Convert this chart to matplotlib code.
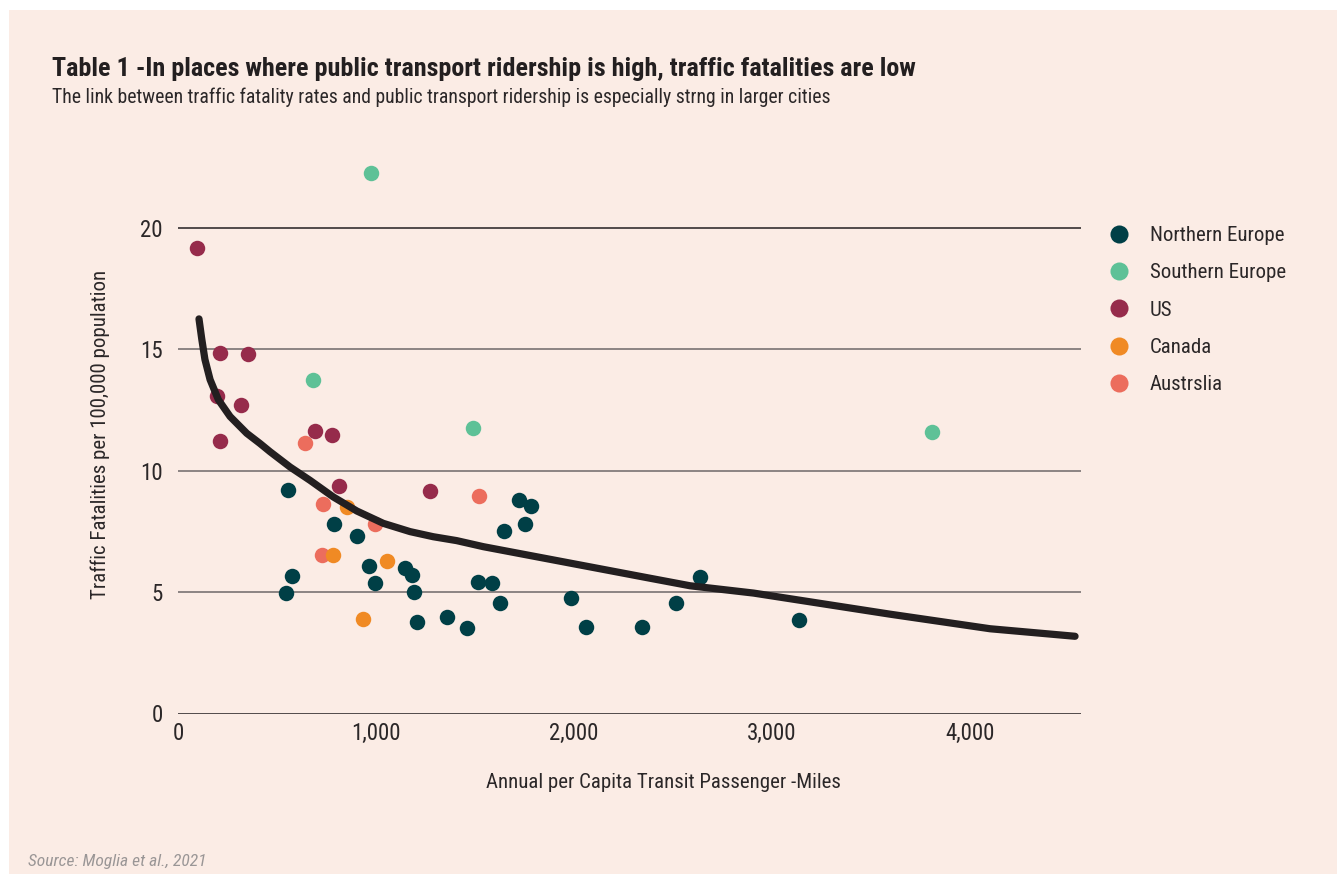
import matplotlib
matplotlib.use('Agg')
import matplotlib.pyplot as plt
from matplotlib.patches import Rectangle
from matplotlib.lines import Line2D

plt.rcParams['font.family'] = ['Roboto Condensed', 'Roboto', 'DejaVu Sans']

# data
ne_x = [556, 574, 545, 786, 906, 966, 995, 1148, 1183, 1194, 1207, 1359, 1460,
        1513, 1584, 1625, 1645, 1722, 1754, 1784, 1983, 2061, 2343, 2517, 2636, 3138]
ne_y = [9.21, 5.66, 4.96, 7.79, 7.33, 6.09, 5.36, 6.0, 5.69, 5.0, 3.76, 3.98, 3.51,
        5.41, 5.36, 4.56, 7.52, 8.81, 7.79, 8.53, 4.76, 3.57, 3.57, 4.56, 5.64, 3.84]
se_x = [973, 682, 1488, 3808]
se_y = [22.26, 13.73, 11.76, 11.58]
us_x = [94, 210, 354, 195, 318, 210, 693, 776, 815, 1274]
us_y = [19.17, 14.85, 14.81, 13.09, 12.69, 11.23, 11.65, 11.46, 9.36, 9.18]
ca_x = [853, 784, 1057, 936]
ca_y = [8.51, 6.51, 6.26, 3.90]
au_x = [643, 732, 995, 727, 1522]
au_y = [11.15, 8.61, 7.79, 6.51, 8.95]

# fitted trend line
fit_x = [106, 120, 136, 162, 204, 263, 347, 414, 465, 566, 667, 784, 903, 1037,
         1172, 1289, 1407, 1542, 1879, 2384, 2586, 2906, 3596, 4101, 4530]
fit_y = [16.25, 15.42, 14.58, 13.75, 12.92, 12.23, 11.54, 11.12, 10.78, 10.15, 9.6,
         8.92, 8.34, 7.83, 7.49, 7.28, 7.12, 6.87, 6.35, 5.57, 5.26, 4.96, 4.09, 3.49, 3.18]

x_ticks = [0, 1000, 2000, 3000, 4000]
x_labels = ['0', '1,000', '2,000', '3,000', '4,000']
y_ticks = [0, 5, 10, 15, 20]

bg = '#fbece5'
txt = '#2b2728'

W, H = 1337, 874
fig = plt.figure(figsize=(W / 100, H / 100), dpi=100, facecolor='white')
fig.patches.append(Rectangle((9 / W, 0), 1, (H - 10) / H, transform=fig.transFigure,
                             facecolor=bg, edgecolor='none', zorder=-10))

ax = fig.add_axes([178 / W, 1 - 713.5 / H, (1081 - 178) / W, (713.5 - 155) / H])
ax.set_facecolor('none')
ax.set_xlim(0, 4560)
ax.set_ylim(0, 23)

for v in y_ticks:
    c = '#231f20' if v in (0, 20) else '#6e6868'
    ax.axhline(v, color=c, lw=1.1, zorder=1)

s = 124
ax.scatter(au_x, au_y, s=s, color='#ec6d5d', lw=0, zorder=3)
ax.scatter(ne_x, ne_y, s=s, color='#003f46', lw=0, zorder=3)
ax.scatter(se_x, se_y, s=s, color='#5ec197', lw=0, zorder=3)
ax.scatter(us_x, us_y, s=s, color='#962b4b', lw=0, zorder=3)
ax.scatter(ca_x, ca_y, s=s, color='#f08a24', lw=0, zorder=3)

ax.plot(fit_x, fit_y, color='#231f20', lw=5.2, solid_capstyle='round',
        solid_joinstyle='round', zorder=4)

for sp in ax.spines.values():
    sp.set_visible(False)
ax.set_xticks(x_ticks)
ax.set_xticklabels(x_labels)
ax.set_yticks(y_ticks)
ax.tick_params(axis='both', length=0, labelsize=16.5, colors=txt)
ax.tick_params(axis='y', pad=11)
ax.tick_params(axis='x', pad=6)

ax.set_ylabel('Traffic Fatalities per 100,000 population', fontsize=15, color=txt,
              labelpad=22)
fig.text(663 / W, 1 - 782 / H, 'Annual per Capita Transit Passenger -Miles',
         fontsize=15, color=txt, ha='center', va='center')

fig.text(52 / W, 1 - 76 / H,
         'Table 1 -In places where public transport ridership is high, traffic fatalities are low',
         fontsize=18.8, fontweight='bold', color='#231f20', ha='left', va='baseline')
fig.text(52 / W, 1 - 103 / H,
         'The link between traffic fatality rates and public transport ridership is especially strng in larger cities',
         fontsize=14.2, color=txt, ha='left', va='baseline')
fig.text(28 / W, 1 - 866 / H, 'Source: Moglia et al., 2021', fontsize=12.6,
         style='italic', color='#9a9696', ha='left', va='baseline')

names = ['Northern Europe', 'Southern Europe', 'US', 'Canada', 'Austrslia']
cols = ['#003f46', '#5ec197', '#962b4b', '#f08a24', '#ec6d5d']
handles = [Line2D([], [], ls='none', marker='o', ms=13, mew=0, color=c) for c in cols]
ax.legend(handles, names, loc='upper left', bbox_to_anchor=(1108.6 / W, 1 - 226 / H),
          bbox_transform=fig.transFigure, frameon=False, fontsize=15,
          handlelength=1.0, handletextpad=0.98, labelspacing=0.88, borderpad=0,
          borderaxespad=0, labelcolor=txt)

fig.savefig('out.png', dpi=100, facecolor='white')
